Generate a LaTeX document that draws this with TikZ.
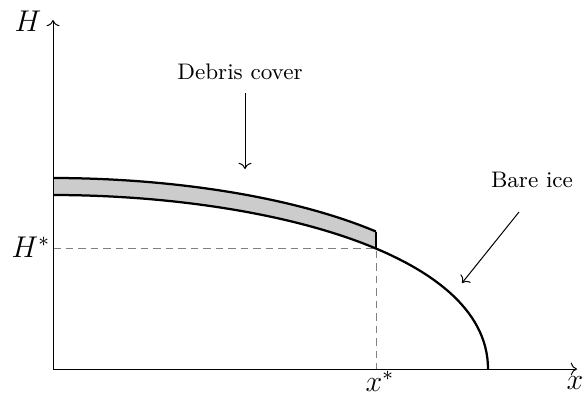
\documentclass[tikz,border=0pt]{standalone}
\usetikzlibrary{arrows.meta}
\begin{document}
\begin{tikzpicture}[x=0.4pt,y=-0.4pt,
  axis/.style={line width=0.4pt,->},
  ice/.style={line width=0.9pt},
  guide/.style={gray,line width=0.4pt,dash pattern=on 3pt off 2pt},
  pointer/.style={line width=0.4pt,->},
  mathlabel/.style={font=\large,inner sep=0pt},
  textlabel/.style={font=\small,inner sep=0pt}]
\useasboundingbox (0,0) rectangle (584,401);
% coordinates
\coordinate (O) at (53,369);
\coordinate (ytop) at (53,20);
\coordinate (xend) at (577,369);
\coordinate (Hs) at (53,248.5);
\coordinate (ps) at (376,248.5);
\coordinate (xs) at (376,369);
\coordinate (dtop) at (376,231.5);
% debris layer
\begin{scope}
  \clip (0,0) rectangle (376,401);
  \fill[gray!40] (53,178) .. controls (253,178) and (488,232) .. (488,352)
     -- (488,369) .. controls (488,249) and (253,195) .. (53,195) -- cycle;
  \draw[ice] (53,178) .. controls (253,178) and (488,232) .. (488,352);
\end{scope}
\draw[ice] (dtop) -- (ps);
% guides
\draw[guide] (Hs) -- (ps) -- (xs);
% ice surface
\draw[ice] (53,195) .. controls (253,195) and (488,249) .. (488,369);
% axes
\draw[axis] (O) -- (ytop);
\draw[axis] (O) -- (xend);
% labels
\node[mathlabel] (Hl) at (28,21) {$H$};
\node[mathlabel] (xl) at (575,383) {$x$};
\node[mathlabel] (Hsl) at (31,247) {$H^*$};
\node[mathlabel] (xsl) at (380,381) {$x^*$};
\node[textlabel] (deb) at (240,72) {Debris cover};
\node[textlabel] (bare) at (532,180) {Bare ice};
\coordinate (da) at (245,93);
\coordinate (db) at (245,169);
\coordinate (ba) at (519,212);
\coordinate (bb) at (462,283);
\draw[pointer] (da) -- (db);
\draw[pointer] (ba) -- (bb);
\end{tikzpicture}
\end{document}
